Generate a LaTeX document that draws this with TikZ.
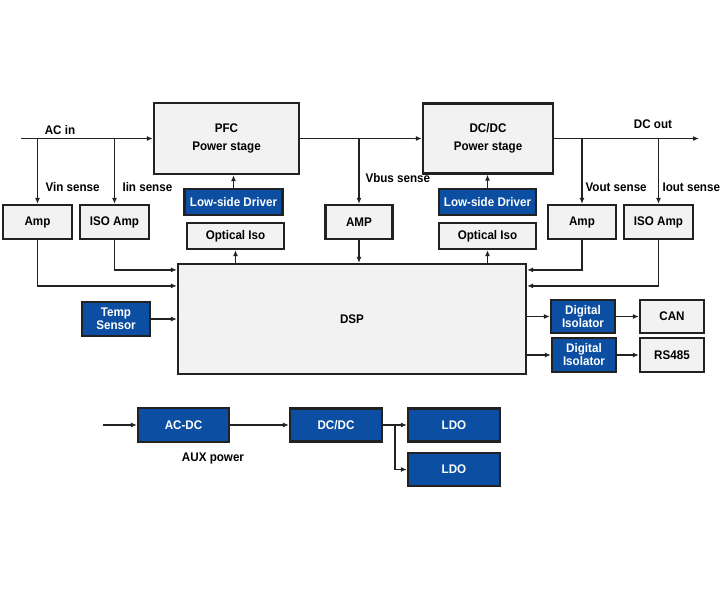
\documentclass[tikz,border=0pt]{standalone}
\usepackage{fontspec}
\setmainfont{Liberation Sans}[FakeStretch=0.93]
\usetikzlibrary{arrows.meta}
\definecolor{boxblue}{HTML}{0B4EA2}
\definecolor{boxgray}{HTML}{F2F2F2}
\definecolor{edge}{HTML}{222222}
\begin{document}
\begin{tikzpicture}[x=1pt, y=-1pt,
  every node/.style={font=\fontsize{12.5}{15}\selectfont\bfseries},
  graybox/.style={draw=edge, line width=2.2pt, fill=boxgray, align=center, inner sep=0pt},
  bluebox/.style={draw=edge, line width=2.2pt, fill=boxblue, text=white, align=center, inner sep=0pt},
  wire/.style={line width=1.7pt, draw=edge},
  arr/.style={wire, -{Latex[length=6pt,width=5pt]}}]
\useasboundingbox (0,0) rectangle (720,600);
% power path
\node[graybox, minimum width=145pt, minimum height=71pt] (pfc) at (226.5,138.5) {PFC\\[3pt]Power stage};
\node[graybox, minimum width=130pt, minimum height=70pt] (dcdc) at (488,138.5) {DC/DC\\[3pt]Power stage};
\coordinate (acin) at (21,138.5);
\coordinate (dcout) at (699,138.5);
\draw[arr] (acin) -- (pfc.west);
\draw[arr] (pfc.east) -- (dcdc.west);
\draw[arr] (dcdc.east) -- (dcout);
\node (aclbl) at (60,130) {AC in};
\node (dclbl) at (653,124) {DC out};
% sensing
\node[graybox, minimum width=69pt, minimum height=34pt] (ampL) at (37.5,222) {Amp};
\node[graybox, minimum width=69pt, minimum height=34pt] (isoL) at (114.5,222) {ISO Amp};
\node[graybox, minimum width=67pt, minimum height=34pt] (ampM) at (359,222) {AMP};
\node[graybox, minimum width=68pt, minimum height=34pt] (ampR) at (582,222) {Amp};
\node[graybox, minimum width=69pt, minimum height=34pt] (isoR) at (658.5,222) {ISO Amp};
\draw[arr] (ampL |- acin) -- (ampL.north);
\draw[arr] (isoL |- acin) -- (isoL.north);
\draw[arr] (ampM |- pfc.east) -- (ampM.north);
\draw[arr] (ampR |- dcout) -- (ampR.north);
\draw[arr] (isoR |- dcout) -- (isoR.north);
\node[anchor=west] (vinlbl) at (42,187) {Vin sense};
\node[anchor=west] (iinlbl) at (119,187) {Iin sense};
\node[anchor=west] (vbuslbl) at (362,178) {Vbus sense};
\node[anchor=west] (voutlbl) at (582,187) {Vout sense};
\node[anchor=west] (ioutlbl) at (659,187) {Iout sense};
% drivers
\node[bluebox, minimum width=98pt, minimum height=26pt] (drvL) at (233.5,202) {Low-side Driver};
\node[graybox, minimum width=97pt, minimum height=26pt] (optL) at (235.5,236) {Optical Iso};
\node[bluebox, minimum width=97pt, minimum height=26pt] (drvR) at (487.5,202) {Low-side Driver};
\node[graybox, minimum width=97pt, minimum height=26pt] (optR) at (487.5,236) {Optical Iso};
\draw[arr] (drvL.north) -- (drvL.north |- pfc.south);
\draw[arr] (drvR.north) -- (drvR.north |- dcdc.south);
% controller
\node[graybox, minimum width=348pt, minimum height=110pt] (dsp) at (352,319) {DSP};
\node[bluebox, minimum width=68pt, minimum height=34pt] (temp) at (116,319) {Temp\\[-2pt]Sensor};
\draw[arr] (optL.south |- dsp.north) -- (optL.south);
\draw[arr] (optR.south |- dsp.north) -- (optR.south);
\draw[arr] (ampM.south) -- (ampM.south |- dsp.north);
\draw[arr] (ampL.south) |- ([yshift=-23pt]dsp.north west);
\draw[arr] (isoL.south) |- ([yshift=-7pt]dsp.north west);
\draw[arr] (ampR.south) |- ([yshift=-7pt]dsp.north east);
\draw[arr] (isoR.south) |- ([yshift=-23pt]dsp.north east);
\draw[arr] (temp.east) -- (temp.east -| dsp.west);
% communication
\node[bluebox, minimum width=64pt, minimum height=33pt] (dig1) at (583,316.5) {Digital\\[-2pt]Isolator};
\node[bluebox, minimum width=64pt, minimum height=34pt] (dig2) at (584,355) {Digital\\[-2pt]Isolator};
\node[graybox, minimum width=64pt, minimum height=33pt] (can) at (672,316.5) {CAN};
\node[graybox, minimum width=64pt, minimum height=34pt] (rs) at (672,355) {RS485};
\draw[arr] (dig1 -| dsp.east) -- (dig1.west);
\draw[arr] (dig2 -| dsp.east) -- (dig2.west);
\draw[arr] (dig1.east) -- (can.west);
\draw[arr] (dig2.east) -- (rs.west);
% aux power
\node[bluebox, minimum width=91pt, minimum height=34pt] (acdc) at (183.5,425) {AC-DC};
\node[bluebox, minimum width=92pt, minimum height=33pt] (auxdc) at (336,425) {DC/DC};
\node[bluebox, minimum width=92pt, minimum height=33pt] (ldoA) at (454,425) {LDO};
\node[bluebox, minimum width=92pt, minimum height=33pt] (ldoB) at (454,469.5) {LDO};
\node (auxlbl) at (213,458) {AUX power};
\coordinate (auxin) at (103,425);
\coordinate (split) at (395,425);
\draw[arr] (auxin) -- (acdc.west);
\draw[arr] (acdc.east) -- (auxdc.west);
\draw[arr] (auxdc.east) -- (ldoA.west);
\draw[arr] (split) |- (ldoB.west);
\end{tikzpicture}
\end{document}
